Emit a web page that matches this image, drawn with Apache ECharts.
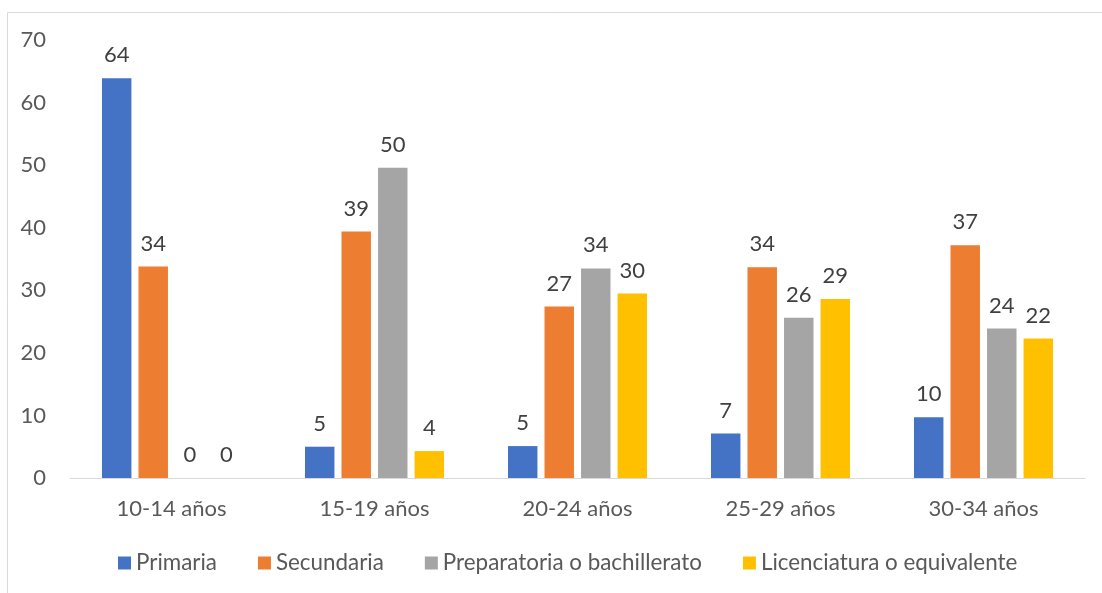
<!DOCTYPE html>
<html>
<head>
<meta charset="utf-8">
<script src="https://cdn.jsdelivr.net/npm/echarts@6/dist/echarts.min.js"></script>
<style>
html,body{margin:0;padding:0;background:#fff;}
#chart{width:1102px;height:593px;}
</style>
</head>
<body>
<div id="chart"></div>
<script>
const categories = ['10-14 años', '15-19 años', '20-24 años', '25-29 años', '30-34 años'];
const seriesNames = ['Primaria', 'Secundaria', 'Preparatoria o bachillerato', 'Licenciatura o equivalente'];
const primaria = [63.9, 5.0, 5.1, 7.1, 9.7];
const secundaria = [33.8, 39.4, 27.4, 33.7, 37.2];
const preparatoria = [0, 49.6, 33.5, 25.6, 23.9];
const licenciatura = [0, 4.3, 29.5, 28.6, 22.3];
const colors = ['#4472C4', '#ED7D31', '#A5A5A5', '#FFC000'];
const yTicks = [0, 10, 20, 30, 40, 50, 60, 70];

const FONT = 'Lato, "Open Sans", sans-serif';
const values = [primaria, secundaria, preparatoria, licenciatura];

const chart = echarts.init(document.getElementById('chart'));
chart.setOption({
  backgroundColor: '#fff',
  animation: false,
  textStyle: { fontFamily: FONT },
  graphic: [{
    type: 'rect',
    shape: { x: 7.5, y: 12.5, width: 1200, height: 700 },
    style: { fill: 'none', stroke: '#d9d9d9', lineWidth: 1 },
    silent: true
  }],
  grid: { left: 70, right: 17, top: 40, bottom: 115, containLabel: false },
  legend: {
    left: 113,
    top: 547,
    itemWidth: 13,
    itemHeight: 13,
    itemGap: 41,
    icon: 'rect',
    textStyle: { fontSize: 22.4, color: '#595959', fontFamily: FONT },
    data: seriesNames
  },
  xAxis: {
    type: 'category',
    data: categories,
    axisLine: { lineStyle: { color: '#d9d9d9', width: 1 } },
    axisTick: { show: false },
    axisLabel: { fontSize: 22, color: '#595959', margin: 20, fontFamily: FONT }
  },
  yAxis: {
    type: 'value',
    min: yTicks[0],
    max: yTicks[yTicks.length - 1],
    interval: 10,
    axisLine: { show: false },
    axisTick: { show: false },
    splitLine: { show: false },
    axisLabel: { fontSize: 22, color: '#595959', margin: 24, fontFamily: FONT }
  },
  series: values.map((v, i) => ({
    name: seriesNames[i],
    type: 'bar',
    data: v,
    barGap: '24%',
    barCategoryGap: '31.5%',
    itemStyle: { color: colors[i] },
    label: {
      show: true,
      position: 'top',
      distance: 12,
      fontSize: 22,
      color: '#404040',
      fontFamily: FONT,
      formatter: p => Math.round(p.value)
    }
  }))
});
</script>
</body>
</html>
